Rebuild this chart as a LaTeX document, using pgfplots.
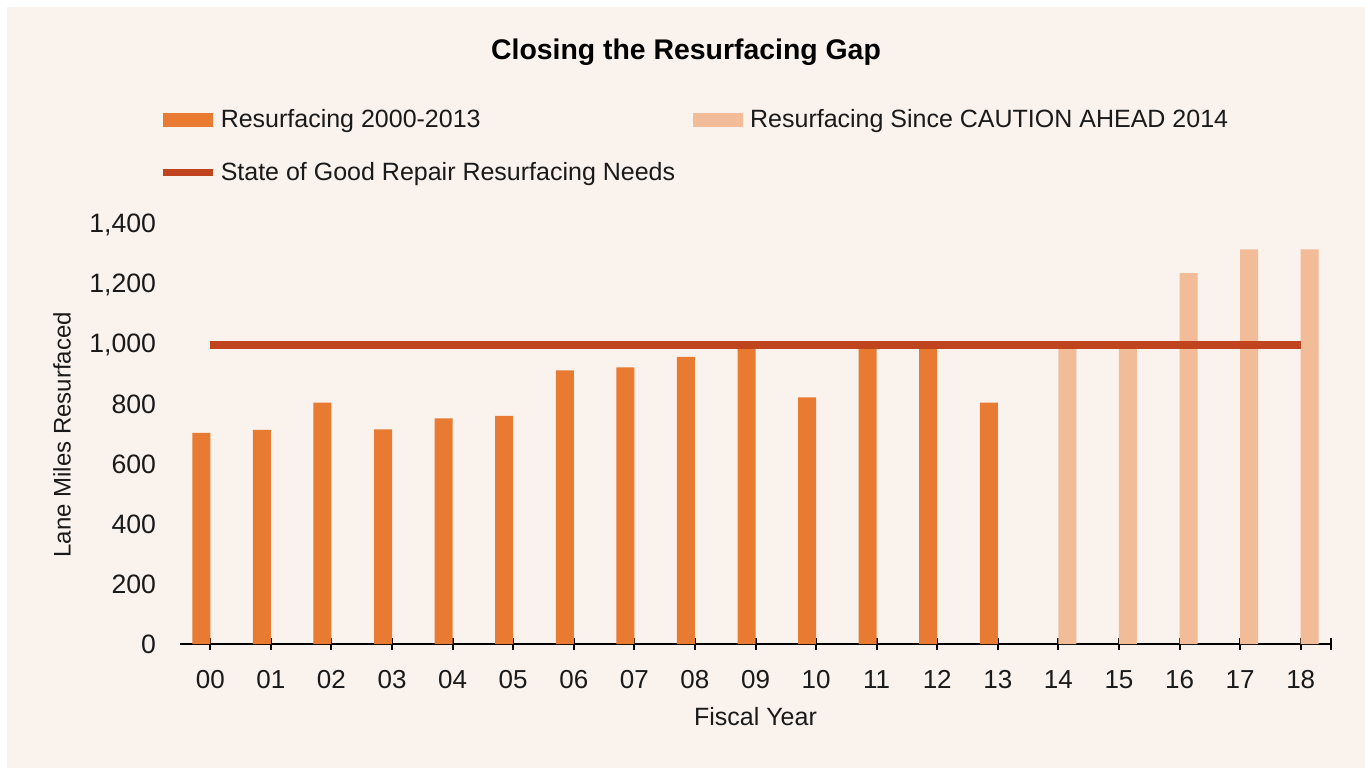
\documentclass[border=0pt]{standalone}
\usepackage{fontspec}
\setmainfont{Liberation Sans}
\usepackage{pgfplots}
\pgfplotsset{compat=1.18}
\definecolor{cDark}{HTML}{E97A31}
\definecolor{cLight}{HTML}{F2BC98}
\definecolor{cLine}{HTML}{C0451F}
\definecolor{cBg}{HTML}{FAF2ED}
\definecolor{cText}{HTML}{1A1A1A}
\begin{document}
\begin{tikzpicture}
\useasboundingbox (-90pt,-62pt) rectangle (592.5pt,322pt);
\fill[white] (-90pt,-62pt) rectangle (592.5pt,322pt);
\fill[cBg] (-86.5pt,-62pt) rectangle (592.5pt,318.5pt);
\begin{axis}[
  at={(0,0)}, anchor=south west,
  scale only axis, width=575.5pt, height=209.3pt,
  xmin=-0.5, xmax=18.5, ymin=0, ymax=1400,
  axis x line=bottom, axis y line=left,
  x axis line style={-, line width=1pt, black},
  y axis line style={draw=none},
  xtick={0,...,18},
  xticklabels={00,01,02,03,04,05,06,07,08,09,10,11,12,13,14,15,16,17,18},
  extra x ticks={18.5}, extra x tick labels={},
  xtick align=center, major tick length=6pt,
  xtick style={line width=1pt, black},
  ytick={0,200,...,1400},
  ytick style={draw=none},
  /pgf/number format/assume math mode=true,
  /pgf/number format/1000 sep={,},
  yticklabel style={font=\fontsize{13.3}{15}\selectfont, text=cText, anchor=east, xshift=-5.5pt},
  xticklabel style={font=\fontsize{13}{15}\selectfont, text=cText, anchor=base, yshift=-19pt},
  ylabel={Lane Miles Resurfaced},
  ylabel style={font=\fontsize{12}{14}\selectfont, text=cText, at={(axis description cs:-0.1025,0.5)}, anchor=center},
  xlabel={Fiscal Year},
  xlabel style={font=\fontsize{12.5}{14}\selectfont, text=cText, at={(axis description cs:0.5,-0.1744)}, anchor=center},
  title={Closing the Resurfacing Gap},
  title style={font=\bfseries\fontsize{14.2}{16}\selectfont, text=black, at={(axis description cs:0.4396,1.386)}, anchor=center},
  legend columns=2,
  legend cell align=left,
  legend style={draw=none, fill=none, at={(axis description cs:-0.0235,1.298)}, anchor=north west,
    font=\fontsize{12.5}{15}\selectfont, text=cText,
    /tikz/column 1/.style={column sep=0pt},
    /tikz/column 2/.style={column sep=7pt},
    /tikz/column 3/.style={column sep=1.5pt},
    row sep=12pt},
]
\addplot[ybar, bar width=9pt, bar shift=-4.5pt, fill=cDark, draw=none,
  legend image code/.code={\fill[cDark] (0pt,-3.5pt) rectangle (25pt,3.5pt);}]
  coordinates {(0,706) (1,716) (2,807) (3,718) (4,755) (5,763) (6,915) (7,925) (8,960) (9,1000) (10,825) (11,1000) (12,1000) (13,807)};
\addlegendentry{Resurfacing 2000-2013}
\addplot[ybar, bar width=9pt, bar shift=4.5pt, fill=cLight, draw=none,
  legend image code/.code={\fill[cLight] (0pt,-3.5pt) rectangle (25pt,3.5pt);}]
  coordinates {(14,1000) (15,1000) (16,1240) (17,1320) (18,1320)};
\addlegendentry{Resurfacing Since CAUTION AHEAD 2014}
\addplot[cLine, line width=3.7pt, mark=none,
  legend image code/.code={\draw[cLine, line width=3.7pt] (0pt,0pt) -- (25pt,0pt);}]
  coordinates {(0,1000) (18,1000)};
\addlegendentry{State of Good Repair Resurfacing Needs}
\end{axis}
\end{tikzpicture}
\end{document}
